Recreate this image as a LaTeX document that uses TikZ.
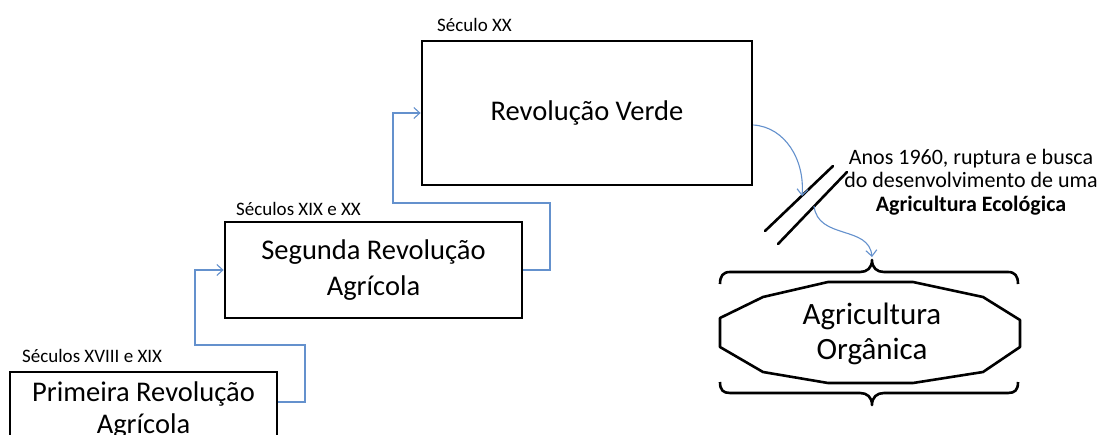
\documentclass[tikz,border=0pt]{standalone}
\usepackage{fontspec}
\setmainfont{Carlito}
\usetikzlibrary{arrows.meta}
\definecolor{conn}{RGB}{100,145,205}
\begin{document}
\begin{tikzpicture}[x=1pt,y=-1pt,
 box/.style={draw=black,line width=2.8pt,rectangle,inner sep=0pt,align=center,font=\fontsize{28.5}{36}\selectfont},
 era/.style={anchor=base west,inner sep=0pt,font=\fontsize{19}{22}\selectfont},
 link/.style={draw=conn,line width=1.1pt,-{Straight Barb[length=6pt,width=11pt]}},
 heavy/.style={line width=2.6pt,line join=round,line cap=round}]
\path[use as bounding box,clip] (0,0) rectangle (1106,434);
\fill[white] (0,0) rectangle (1106,434);
% boxes
\node[box,minimum width=267pt,minimum height=76pt,font=\fontsize{28.5}{32}\selectfont] (b1) at (143.5,410) {Primeira Revolução\\Agrícola};
\node[box,minimum width=297pt,minimum height=96pt] (b2) at (373.5,270) {Segunda Revolução\\Agrícola};
\node[box,minimum width=330pt,minimum height=144pt] (b3) at (587,113) {Revolução Verde};
% era labels
\node[era] (l1) at (22,362) {Séculos XVIII e XIX};
\node[era] (l2) at (236,215) {Séculos XIX e XX};
\node[era] (l3) at (437,31) {Século XX};
% step connectors
\draw[link] (b1.east |- 0,402) -- (305,402) -- (305,345) -- (195,345) -- (195,270) -- (b2.west);
\draw[link] (b2.east) -- (550,270) -- (550,203) -- (393,203) -- (393,113) -- (b3.west);
% break mark
\coordinate (brkA) at (802,196);
\coordinate (brkB) at (814,206);
\draw[heavy] (765,231) -- (833,166);
\draw[heavy] (778,244) -- (847,172);
% note
\node[align=center,inner sep=0pt,font=\fontsize{22}{23.5}\selectfont] (note) at (971,182)
 {Anos 1960, ruptura e busca\\do desenvolvimento de uma\\\textbf{Agricultura Ecológica}};
% braces
\coordinate (tip) at (872,257);
\draw[heavy,line cap=butt] (720,284) .. controls (720,276) and (723,272) .. (730,272) -- (860,272)
  .. controls (867,272) and (872,268) .. (872,260) .. controls (872,268) and (877,272) .. (884,272)
  -- (1008,272) .. controls (1015,272) and (1018,276) .. (1018,284);
\draw[heavy,line cap=butt] (720,382) .. controls (720,390) and (723,393) .. (730,393) -- (860,393)
  .. controls (867,393) and (872,397) .. (872,405) .. controls (872,397) and (877,393) .. (884,393)
  -- (1008,393) .. controls (1015,393) and (1018,390) .. (1018,382);
% octagon
\draw[heavy] (828,282) -- (913,282) -- (983,297) -- (1020,320) -- (1020,347) -- (983,372) -- (913,383)
  -- (828,383) -- (763,372) -- (720,347) -- (720,318) -- (763,297) -- cycle;
\node[align=center,inner sep=0pt,font=\fontsize{31}{35}\selectfont] (org) at (872,334) {Agricultura\\Orgânica};
% curved connectors
\draw[link] (b3.east |- 0,125) .. controls (785,127) and (805,160) .. (brkA);
\draw[link] (brkB) .. controls (818,240) and (869,225) .. (tip);
\end{tikzpicture}
\end{document}
